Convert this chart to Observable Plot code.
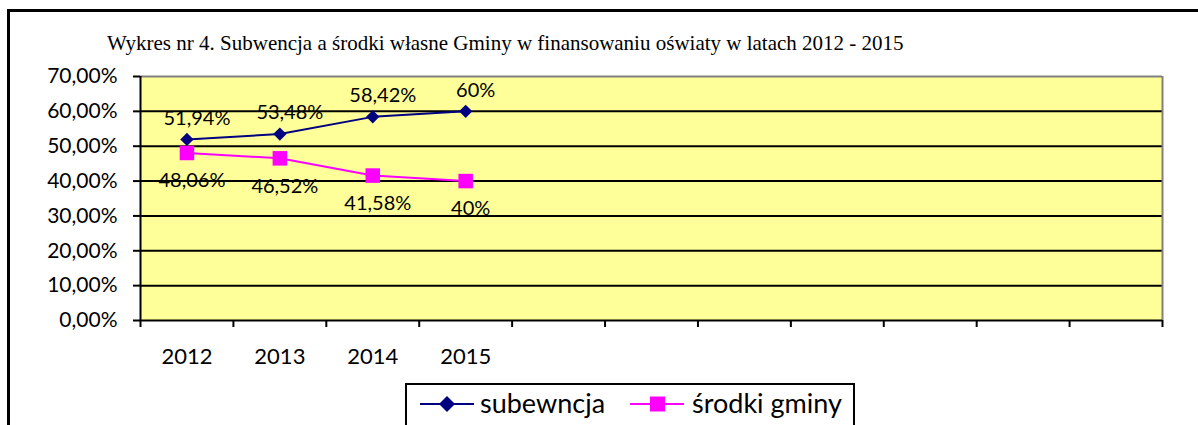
<!DOCTYPE html>
<html><head><meta charset="utf-8">
<script src="https://cdn.jsdelivr.net/npm/d3@7"></script>
<script src="https://cdn.jsdelivr.net/npm/@observablehq/plot@0.6"></script>
<style>
body{margin:0;background:#fff;}
#wrap{position:relative;width:1198px;height:425px;overflow:hidden;background:#fff;}
#frame{position:absolute;left:7px;top:9px;width:1300px;height:500px;border:3px solid #000;box-sizing:border-box;}
#title{position:absolute;left:107px;top:31px;font-family:"Liberation Serif",serif;font-size:21px;white-space:nowrap;color:#000;}
#chart{position:absolute;left:0;top:0;}
#legend{position:absolute;left:405px;top:383px;width:450px;height:60px;border:2px solid #000;background:#fff;box-sizing:border-box;font-family:Lato,sans-serif;font-size:27px;}
#legend .sw{position:absolute;top:6px;}
#legend .txt{position:absolute;top:0px;white-space:nowrap;line-height:36px;}
</style></head>
<body>
<div id="wrap">
  <div id="frame"></div>
  <div id="title">Wykres nr 4. Subwencja a środki własne Gminy w finansowaniu oświaty w latach 2012 - 2015</div>
  <div id="chart"></div>
  <div id="legend"></div>
</div>
<script>
const years = ["2012", "2013", "2014", "2015"];
const slots = 11;
const subwencja = [0.5194, 0.5348, 0.5842, 0.60];
const srodki = [0.4806, 0.4652, 0.4158, 0.40];
const subLabels = ["51,94%", "53,48%", "58,42%", "60%"];
const srLabels = ["48,06%", "46,52%", "41,58%", "40%"];
const yTicks = [0, 0.1, 0.2, 0.3, 0.4, 0.5, 0.6, 0.7];
const seriesNames = ["subewncja", "środki gminy"];
const colors = ["#000080", "#FF00FF"];

const subData = years.map((y, i) => ({i: i + 0.5, v: subwencja[i], label: subLabels[i]}));
const srData = years.map((y, i) => ({i: i + 0.5, v: srodki[i], label: srLabels[i]}));
const fmt = d => (d * 100).toFixed(2).replace(".", ",") + "%";
const font = "Lato, sans-serif";

const chart = Plot.plot({
  width: 1198,
  height: 380,
  marginTop: 76,
  marginBottom: 60,
  marginLeft: 140,
  marginRight: 36,
  style: {fontFamily: font, background: "transparent", color: "#000"},
  x: {type: "linear", domain: [0, slots], axis: null},
  y: {domain: [0, 0.7], axis: null},
  marks: [
    Plot.frame({fill: "#FFFF99", stroke: null}),
    Plot.ruleY(yTicks.filter(d => d > 0 && d < 0.7), {stroke: "#000", strokeWidth: 2}),
    Plot.ruleY([0.7], {stroke: "#808080", strokeWidth: 2}),
    Plot.ruleX([slots], {stroke: "#808080", strokeWidth: 2}),
    Plot.ruleY([0], {stroke: "#000", strokeWidth: 2}),
    Plot.ruleX([0], {stroke: "#000", strokeWidth: 2}),
    Plot.axisY({ticks: yTicks, tickFormat: fmt, tickSize: 7, tickPadding: 16, fontSize: 21, strokeWidth: 2, anchor: "left", label: null}),
    Plot.axisX({ticks: d3.range(0, slots + 1), tickFormat: () => "", tickSize: 7, strokeWidth: 2, label: null}),
    Plot.axisX({ticks: years.map((y, i) => i + 0.5), tickFormat: d => years[Math.floor(d)], tickSize: 0, tickPadding: 28, fontSize: 22, label: null}),
    Plot.line(subData, {x: "i", y: "v", stroke: colors[0], strokeWidth: 2}),
    Plot.line(srData, {x: "i", y: "v", stroke: colors[1], strokeWidth: 2}),
    Plot.dot(subData, {x: "i", y: "v", symbol: "diamond2", r: 6, fill: colors[0], stroke: null}),
    Plot.dot(srData, {x: "i", y: "v", symbol: "square", r: 8.2, fill: colors[1], stroke: null}),
    Plot.text(subData, {x: "i", y: "v", text: "label", dy: -21, dx: 10, fontSize: 20, fill: "#000"}),
    Plot.text(srData, {x: "i", y: "v", text: "label", dy: 28, dx: 5, fontSize: 20, fill: "#000"})
  ]
});
document.getElementById("chart").appendChild(chart);

// legend
const legend = document.getElementById("legend");
const swLeft = [13, 223];
const txtLeft = [73, 285];
seriesNames.forEach((name, k) => {
  const sw = d3.create("svg").attr("class", "sw").attr("width", 54).attr("height", 26)
    .style("left", swLeft[k] + "px");
  sw.append("line").attr("x1", 0).attr("x2", 54).attr("y1", 13).attr("y2", 13).attr("stroke", colors[k]).attr("stroke-width", 2);
  if (k === 0) sw.append("path").attr("d", "M27,5L35,13L27,21L19,13Z").attr("fill", colors[k]);
  else sw.append("rect").attr("x", 20).attr("y", 5.5).attr("width", 15).attr("height", 15).attr("fill", colors[k]);
  legend.appendChild(sw.node());
  const t = document.createElement("div");
  t.className = "txt";
  t.style.left = txtLeft[k] + "px";
  t.textContent = name;
  legend.appendChild(t);
});
</script>
</body></html>
